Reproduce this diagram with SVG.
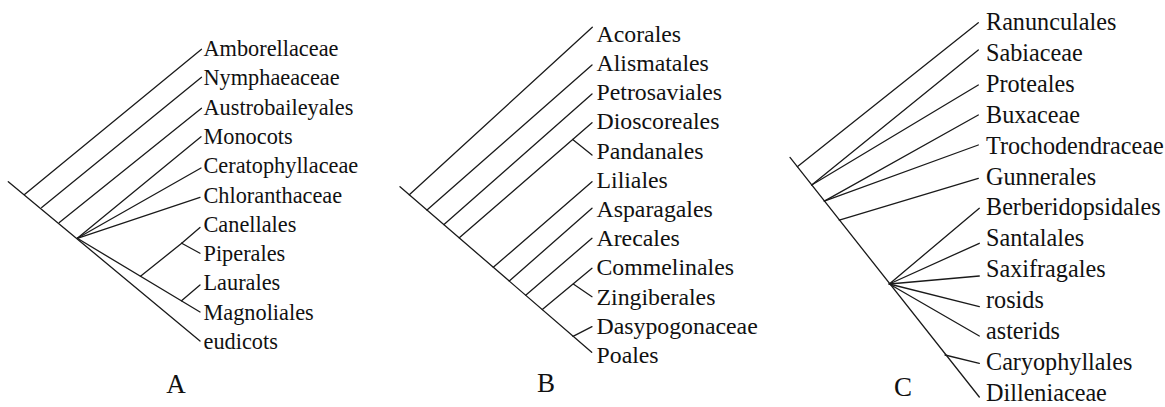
<svg xmlns="http://www.w3.org/2000/svg" width="1165" height="407" viewBox="0 0 1165 407">
<style>
.c line{stroke:#1a1a1a;stroke-width:1.3;stroke-linecap:round;fill:none}
text{font-family:"Liberation Serif","Times New Roman",serif;fill:#111}
.ta{font-size:22.3px}
.tb{font-size:23.8px}
.tc{font-size:24.2px}
.pl{font-size:27px;text-anchor:middle}
</style>
<rect width="1165" height="407" fill="#fff"/>
<g id="connectors" class="c">
<!-- Panel A -->
<line x1="8.3" y1="181.7" x2="200" y2="341"/>
<line x1="24.5" y1="194.5" x2="201.5" y2="49.3"/>
<line x1="41.7" y1="207.5" x2="201.5" y2="77.3"/>
<line x1="59.3" y1="222.5" x2="201.5" y2="108.3"/>
<line x1="77.3" y1="238.3" x2="201" y2="136.7"/>
<line x1="77.3" y1="238.3" x2="201" y2="168"/>
<line x1="77.3" y1="238.3" x2="200" y2="197.3"/>
<line x1="77.3" y1="238.3" x2="200" y2="312"/>
<line x1="140.5" y1="276.2" x2="181.7" y2="243.3"/>
<line x1="181.7" y1="243.3" x2="200" y2="227.5"/>
<line x1="181.7" y1="243.3" x2="200" y2="253.3"/>
<line x1="181.5" y1="300.8" x2="200" y2="285"/>
<!-- Panel B -->
<line x1="400" y1="186.7" x2="591.7" y2="352.3"/>
<line x1="409.3" y1="194.7" x2="592.3" y2="27.3"/>
<line x1="427" y1="210" x2="592" y2="65"/>
<line x1="444" y1="224.6" x2="592" y2="94"/>
<line x1="459.3" y1="237.8" x2="592" y2="122.7"/>
<line x1="572.7" y1="139.5" x2="592" y2="155"/>
<line x1="493.3" y1="267.3" x2="592" y2="181.7"/>
<line x1="509.3" y1="281" x2="592" y2="208.3"/>
<line x1="525.7" y1="295.2" x2="592" y2="238.3"/>
<line x1="542.3" y1="309.5" x2="592" y2="268.3"/>
<line x1="573.3" y1="284" x2="592" y2="296.7"/>
<line x1="573" y1="336.4" x2="592" y2="326.7"/>
<!-- Panel C -->
<line x1="790" y1="157.4" x2="979.3" y2="397"/>
<line x1="797.3" y1="166.7" x2="978.3" y2="22.7"/>
<line x1="811.7" y1="185" x2="978.3" y2="50"/>
<line x1="811.7" y1="185" x2="978.3" y2="85"/>
<line x1="824.3" y1="201.1" x2="978.3" y2="115"/>
<line x1="824.3" y1="201.1" x2="978.3" y2="145"/>
<line x1="839.3" y1="220.2" x2="978.3" y2="178.3"/>
<line x1="889.3" y1="284" x2="979.3" y2="208.3"/>
<line x1="889.3" y1="284" x2="979.3" y2="243.3"/>
<line x1="889.3" y1="284" x2="979.3" y2="276"/>
<line x1="889.3" y1="284" x2="979.3" y2="306.7"/>
<line x1="889.3" y1="284" x2="979.3" y2="336"/>
<line x1="945" y1="355" x2="979.3" y2="363.3"/>
</g>
<!-- Panel A labels -->
<g id="A-Amborellaceae"><text class="ta" x="203.5" y="56">Amborellaceae</text></g>
<g id="A-Nymphaeaceae"><text class="ta" x="203.5" y="85.3">Nymphaeaceae</text></g>
<g id="A-Austrobaileyales"><text class="ta" x="203.5" y="114.6">Austrobaileyales</text></g>
<g id="A-Monocots"><text class="ta" x="203.5" y="143.9">Monocots</text></g>
<g id="A-Ceratophyllaceae"><text class="ta" x="203.5" y="173.2">Ceratophyllaceae</text></g>
<g id="A-Chloranthaceae"><text class="ta" x="203.5" y="202.5">Chloranthaceae</text></g>
<g id="A-Canellales"><text class="ta" x="203.5" y="231.8">Canellales</text></g>
<g id="A-Piperales"><text class="ta" x="203.5" y="261.1">Piperales</text></g>
<g id="A-Laurales"><text class="ta" x="203.5" y="290.4">Laurales</text></g>
<g id="A-Magnoliales"><text class="ta" x="203.5" y="319.7">Magnoliales</text></g>
<g id="A-eudicots"><text class="ta" x="203.5" y="349">eudicots</text></g>
<g id="label-A"><text class="pl" x="176" y="393">A</text></g>
<!-- Panel B labels -->
<g id="B-Acorales"><text class="tb" x="596.5" y="41.7">Acorales</text></g>
<g id="B-Alismatales"><text class="tb" x="596.5" y="70.9">Alismatales</text></g>
<g id="B-Petrosaviales"><text class="tb" x="596.5" y="100.1">Petrosaviales</text></g>
<g id="B-Dioscoreales"><text class="tb" x="596.5" y="129.3">Dioscoreales</text></g>
<g id="B-Pandanales"><text class="tb" x="596.5" y="158.5">Pandanales</text></g>
<g id="B-Liliales"><text class="tb" x="596.5" y="187.7">Liliales</text></g>
<g id="B-Asparagales"><text class="tb" x="596.5" y="216.9">Asparagales</text></g>
<g id="B-Arecales"><text class="tb" x="596.5" y="246.1">Arecales</text></g>
<g id="B-Commelinales"><text class="tb" x="596.5" y="275.3">Commelinales</text></g>
<g id="B-Zingiberales"><text class="tb" x="596.5" y="304.5">Zingiberales</text></g>
<g id="B-Dasypogonaceae"><text class="tb" x="596.5" y="333.7">Dasypogonaceae</text></g>
<g id="B-Poales"><text class="tb" x="596.5" y="362.9">Poales</text></g>
<g id="label-B"><text class="pl" x="546" y="392">B</text></g>
<!-- Panel C labels -->
<g id="C-Ranunculales"><text class="tc" x="986" y="30">Ranunculales</text></g>
<g id="C-Sabiaceae"><text class="tc" x="986" y="60.9">Sabiaceae</text></g>
<g id="C-Proteales"><text class="tc" x="986" y="91.8">Proteales</text></g>
<g id="C-Buxaceae"><text class="tc" x="986" y="122.7">Buxaceae</text></g>
<g id="C-Trochodendraceae"><text class="tc" x="986" y="153.6">Trochodendraceae</text></g>
<g id="C-Gunnerales"><text class="tc" x="986" y="184.5">Gunnerales</text></g>
<g id="C-Berberidopsidales"><text class="tc" x="986" y="215.4">Berberidopsidales</text></g>
<g id="C-Santalales"><text class="tc" x="986" y="246.3">Santalales</text></g>
<g id="C-Saxifragales"><text class="tc" x="986" y="277.2">Saxifragales</text></g>
<g id="C-rosids"><text class="tc" x="986" y="308.1">rosids</text></g>
<g id="C-asterids"><text class="tc" x="986" y="339">asterids</text></g>
<g id="C-Caryophyllales"><text class="tc" x="986" y="369.9">Caryophyllales</text></g>
<g id="C-Dilleniaceae"><text class="tc" x="986" y="400.8">Dilleniaceae</text></g>
<g id="label-C"><text class="pl" x="903" y="396">C</text></g>
</svg>
